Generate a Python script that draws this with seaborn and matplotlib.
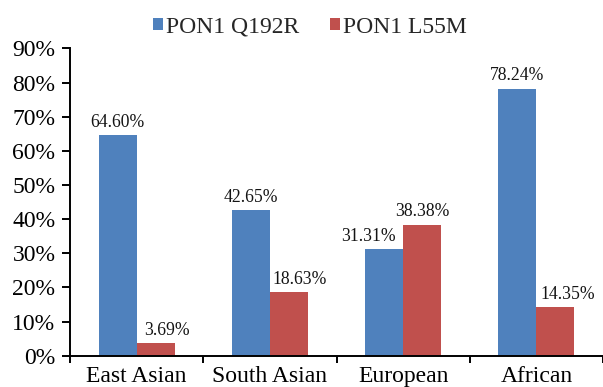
import matplotlib
matplotlib.use("Agg")
import matplotlib.pyplot as plt
from matplotlib.ticker import FixedLocator, PercentFormatter
import pandas as pd
import seaborn as sns

# Allele frequencies by population (percent)
populations = ["East Asian", "South Asian", "European", "African"]
series_names = ["PON1 Q192R", "PON1 L55M"]
q192r_values = [64.60, 42.65, 31.31, 78.24]
l55m_values = [3.69, 18.63, 38.38, 14.35]
y_tick_values = [0, 10, 20, 30, 40, 50, 60, 70, 80, 90]

palette = {"PON1 Q192R": "#4F81BD", "PON1 L55M": "#C0504D"}

# horizontal nudges (points) for value labels, so neighbouring labels don't collide
q192r_label_dx = [0, 0, -11, 0]
l55m_label_dx = [8, 8, 0, 9]

df = pd.DataFrame({
    "population": populations * 2,
    "variant": [series_names[0]] * len(populations) + [series_names[1]] * len(populations),
    "frequency": q192r_values + l55m_values,
})

sns.set_theme(style="white")
plt.rcParams["font.family"] = ["Liberation Serif", "DejaVu Serif"]

fig = plt.figure(figsize=(6.03, 3.87), dpi=100)
ax = fig.add_axes([0.1161, 0.0809, 0.8839, 0.7941])

sns.barplot(
    data=df, x="population", y="frequency", hue="variant",
    order=populations, hue_order=series_names, palette=palette,
    width=0.57, saturation=1, linewidth=0, ax=ax, legend=True,
)

for container, dxs in zip(ax.containers, [q192r_label_dx, l55m_label_dx]):
    labels = ax.bar_label(container, fmt="%.2f%%", padding=3, fontsize=12.7, color="#141414")
    for ann, dx in zip(labels, dxs):
        ox, oy = ann.xyann
        ann.xyann = (ox + dx, oy)

ax.set_ylim(0, 90)
ax.set_xlim(-0.5, len(populations) - 0.5)
ax.yaxis.set_major_locator(FixedLocator(y_tick_values))
ax.yaxis.set_major_formatter(PercentFormatter(decimals=0))
ax.set_xlabel("")
ax.set_ylabel("")

# category separators on the x axis
ax.xaxis.set_minor_locator(FixedLocator([i - 0.5 for i in range(len(populations) + 1)]))
ax.tick_params(axis="x", which="major", length=0, pad=7.5, labelsize=17, colors="black")
ax.tick_params(axis="x", which="minor", length=5, width=1.4, color="black", direction="out", bottom=True)
ax.tick_params(axis="y", which="major", length=5.5, width=1.4, color="black", direction="out",
               left=True, pad=5, labelsize=17, labelcolor="black")

for side in ["top", "right"]:
    ax.spines[side].set_visible(False)
for side in ["left", "bottom"]:
    ax.spines[side].set_color("black")
    ax.spines[side].set_linewidth(1.4)

handles, labels = ax.get_legend_handles_labels()
ax.legend(
    handles, labels, loc="center", bbox_to_anchor=(0.514, 0.93),
    bbox_transform=fig.transFigure, ncol=2, frameon=False, fontsize=17,
    handlelength=0.42, handleheight=0.42, handletextpad=0.12, columnspacing=1.3,
)

fig.savefig("out.png", dpi=100)
